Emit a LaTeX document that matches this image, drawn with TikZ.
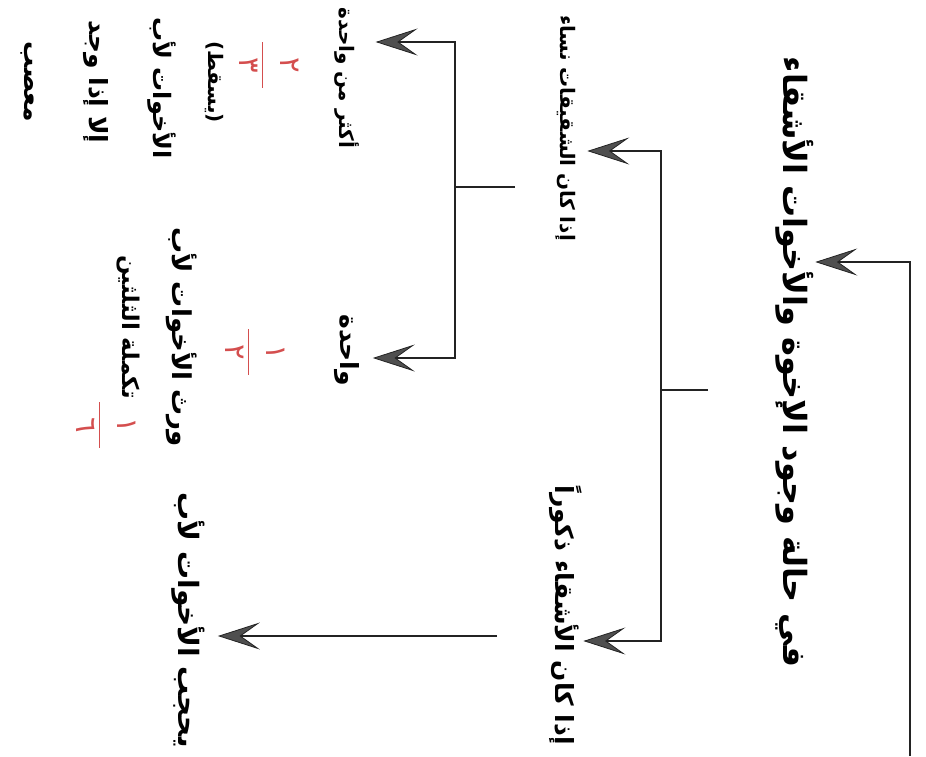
\documentclass[tikz,border=0pt]{standalone}
\usepackage{fontspec}
\usepackage{tikz}
\usetikzlibrary{arrows.meta}
\newfontfamily\arabicfont[Script=Arabic]{DejaVu Sans}
\TeXXeTstate=1
\definecolor{ink}{RGB}{35,35,35}
\definecolor{fracred}{RGB}{212,78,78}
\newcommand{\ar}[1]{\beginR #1\endR}
\newcommand{\frc}[2]{\begin{tabular}{@{}c@{}}#1\\[-11pt]\rule{46pt}{1.8pt}\\[-8pt]#2\end{tabular}}

\begin{document}
\begin{tikzpicture}[x=1pt, y=-1pt, line width=2.5pt, draw=ink,
    txt/.style={rotate=-90, inner sep=0pt,
      font=\arabicfont\bfseries\fontsize{#1}{#1}\selectfont},
    share/.style={rotate=-90, inner sep=0pt, text=fracred,
      font=\arabicfont\fontsize{29}{30}\selectfont},
    link/.style={draw=ink, -{Stealth[length=42pt, width=27pt, inset=19pt,
      line width=0.8pt, fill=ink!80]}},
    stub/.style={draw=ink}]
  \useasboundingbox (0,0) rectangle (926,756);

  % texts
  \node[txt=32] (main) at (795,362) {\ar{في حالة وجود الإخوة والأخوات الأشقاء}};
  \node[txt=20] (sisters) at (566,128) {\ar{إذا كان الشقيقات نساء}};
  \node[txt=25] (brothers) at (566,615) {\ar{إذا كان الأشقاء ذكوراً}};
  \node[txt=20] (many) at (347,78) {\ar{أكثر من واحدة}};
  \node[txt=25] (one) at (347,350) {\ar{واحدة}};
  \node[txt=28] (blocked) at (188,620) {\ar{يحجب الأخوات لأب}};

  \node[share] (twothirds) at (266,65) {\frc{٢}{٣}};
  \node[txt=20] (falls) at (214,82) {\ar{(يسقط)}};
  \node[txt=24] (patsis) at (162,88) {\ar{الأخوات لأب}};
  \node[txt=25] (unless) at (96,82) {\ar{إلا إذا وجد}};
  \node[txt=25] (agnate) at (27,82) {\ar{معصب}};

  \node[share] (half) at (252,352) {\frc{١}{٢}};
  \node[txt=26] (inherit) at (182,337) {\ar{ورث الأخوات لأب}};
  \node[txt=23] (complete) at (128,327) {\ar{تكملة الثلثين}};
  \node[share] (sixth) at (103,425) {\frc{١}{٦}};

  % tree
  \coordinate (foot) at (910,756);
  \coordinate (elbow) at (910,262);
  \draw[link] (foot) -- (elbow) -- (main.north |- elbow);

  \coordinate (s1) at (708,390);
  \coordinate (b1) at (661,390);
  \coordinate (b1t) at (661,151);
  \coordinate (b1b) at (661,641);
  \draw[stub] (s1) -- (b1);
  \draw[link, shorten >=10pt] (b1) -- (b1t) -- (sisters.north |- b1t);
  \draw[link] (b1) -- (b1b) -- (brothers.north |- b1b);

  \coordinate (s2) at (515,187);
  \coordinate (b2) at (455,187);
  \coordinate (b2t) at (455,42);
  \coordinate (b2b) at (455,358);
  \draw[stub] (s2) -- (b2);
  \draw[link, shorten >=15pt] (b2) -- (b2t) -- (many.north |- b2t);
  \draw[link, shorten >=12pt] (b2) -- (b2b) -- (one.north |- b2b);

  \coordinate (s3) at (497,636);
  \draw[link, shorten >=12pt] (s3) -- (blocked.north |- s3);
\end{tikzpicture}
\end{document}
